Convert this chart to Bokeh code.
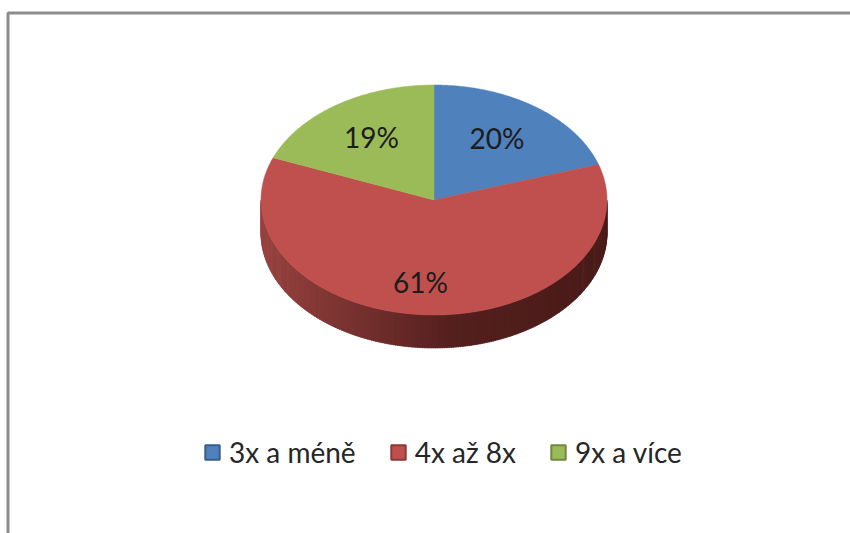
import numpy as np
from bokeh.embed import file_html
from bokeh.resources import INLINE
from bokeh.plotting import figure
from bokeh.models import Range1d, Legend, LegendItem
from bokeh.core.properties import value

categories = ["3x a méně", "4x až 8x", "9x a více"]
values = [20, 61, 19]
labels = ["20%", "61%", "19%"]
colors = ["#4f81bd", "#c0504d", "#9bbb59"]
edges = ["#385d8a", "#8c3836", "#71893f"]
label_x = [496.5, 420, 371]
label_y = [137, 281, 136]

CX, CY, RX, RY, DEPTH = 433.5, 199.5, 173, 115, 33
FONT = "Lato"

p = figure(width=850, height=533, output_backend="svg", toolbar_location=None,
           x_range=Range1d(0, 850), y_range=Range1d(533, 0),
           min_border=0, outline_line_color=None)
p.axis.visible = False
p.grid.visible = False
p.background_fill_color = "white"
p.border_fill_color = "white"

# frame
p.line([7.5, 7.5, 850], [533, 12.5, 12.5], line_color="#8c8c8c", line_width=3)

fractions = np.cumsum([0] + values) / sum(values)
angles = fractions * 2 * np.pi  # clockwise from 12 o'clock

def px(t): return CX + RX * np.sin(t)
def py(t): return CY - RY * np.cos(t)

# side wall of the wedge facing the viewer, as thin shaded strips
def shade(x):
    u = (x - (CX - RX)) / (2 * RX)
    a = np.array([0x98, 0x43, 0x40]); b = np.array([0x55, 0x20, 0x1e]); c = np.array([0x4a, 0x1c, 0x1a])
    col = a + (b - a) * u / 0.55 if u < 0.55 else b + (c - b) * (u - 0.55) / 0.45
    return "#%02x%02x%02x" % tuple(int(round(v)) for v in col)

ts = np.linspace(np.pi / 2, 3 * np.pi / 2, 241)
sx, sy, sc = [], [], []
for t0, t1 in zip(ts[:-1], ts[1:]):
    t2 = min(t1 + 0.006, ts[-1])
    sx.append([px(t0), px(t2), px(t2), px(t0)])
    sy.append([py(t0), py(t2), py(t2) + DEPTH, py(t0) + DEPTH])
    sc.append(shade((px(t0) + px(t1)) / 2))
p.patches(sx, sy, fill_color=sc, line_color=sc, line_width=0.5)

# top faces
for i in range(len(values)):
    t = np.linspace(angles[i], angles[i + 1], 200)
    p.patch(np.r_[CX, px(t)], np.r_[CY, py(t)], fill_color=colors[i],
            line_color=colors[i], line_width=0.5)

# data labels
p.text(label_x, label_y, text=labels, text_font=value(FONT), text_font_size="28px",
       text_color="#1c1c1c", text_align="center", text_baseline="middle")

# legend
items = []
nan = float("nan")
for cat, col, ed in zip(categories, colors, edges):
    r = p.quad(left=[nan], right=[nan], top=[nan], bottom=[nan], fill_color=col, line_color=ed, line_width=2)
    items.append(LegendItem(label=cat, renderers=[r], index=0))
legend = Legend(items=items, orientation="horizontal", location=(203, 64),
                border_line_color=None, background_fill_alpha=0,
                label_text_font=FONT, label_text_font_size="28px", label_text_color="#262626",
                glyph_width=18, glyph_height=18, label_standoff=8, spacing=33,
                padding=8, margin=0)
p.add_layout(legend, "center")

open("out.html", "w").write(file_html(p, INLINE))
